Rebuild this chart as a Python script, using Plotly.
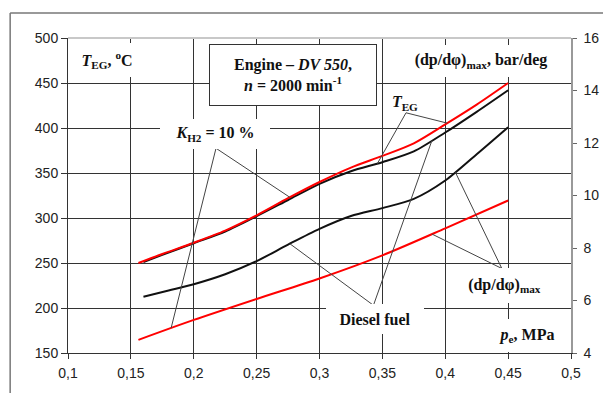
import numpy as np
import plotly.graph_objects as go

# ---- data ----
x_ticks = [0.1, 0.15, 0.2, 0.25, 0.3, 0.35, 0.4, 0.45, 0.5]
x_tick_labels = ["0,1", "0,15", "0,2", "0,25", "0,3", "0,35", "0,4", "0,45", "0,5"]
y_ticks = [150, 200, 250, 300, 350, 400, 450, 500]
y2_ticks = [4, 6, 8, 10, 12, 14, 16]

# T_EG, K_H2 = 10 % (red, left axis)
pe_teg_h2 = [0.156, 0.175, 0.2, 0.225, 0.25, 0.275, 0.3, 0.325, 0.35, 0.375, 0.4, 0.425, 0.45]
teg_h2 = [250, 260, 272.5, 286, 303, 322, 340, 356, 369, 383, 404, 426, 450]
# T_EG, diesel fuel (black, left axis)
pe_teg_df = [0.16, 0.175, 0.2, 0.225, 0.25, 0.275, 0.3, 0.325, 0.35, 0.375, 0.4, 0.425, 0.45]
teg_df = [251, 259, 272, 285, 302, 320, 338, 352, 362, 374, 395, 418, 442]
# (dp/dphi)max, diesel fuel (black, right axis)
pe_dp_df = [0.16, 0.18, 0.2, 0.225, 0.25, 0.275, 0.3, 0.325, 0.35, 0.375, 0.4, 0.425, 0.45]
dp_df = [6.14, 6.38, 6.62, 7.0, 7.5, 8.13, 8.73, 9.22, 9.52, 9.87, 10.57, 11.57, 12.6]
# (dp/dphi)max, K_H2 = 10 % (red, right axis)
pe_dp_h2 = [0.156, 0.2, 0.25, 0.3, 0.35, 0.4, 0.45]
dp_h2 = [4.5, 5.26, 6.06, 6.84, 7.72, 8.75, 9.81]

Y1_MIN, Y1_MAX = 150, 500
Y2_MIN, Y2_MAX = 4, 16


def y2_to_y1(v):
    return Y1_MIN + (v - Y2_MIN) * (Y1_MAX - Y1_MIN) / (Y2_MAX - Y2_MIN)


def on_curve(xs, ys, x, right=False):
    v = float(np.interp(x, xs, ys))
    return y2_to_y1(v) if right else v


RED = "#ff0000"
BLACK = "#111111"
GRID = "#333333"
SERIF = "Liberation Serif, Times New Roman, serif"
SANS = "Liberation Sans, Arial, sans-serif"

fig = go.Figure()
fig.add_trace(go.Scatter(x=pe_dp_h2, y=dp_h2, yaxis="y2", mode="lines",
                         line=dict(color=RED, width=2, shape="spline", smoothing=0.8)))
fig.add_trace(go.Scatter(x=pe_dp_df, y=dp_df, yaxis="y2", mode="lines",
                         line=dict(color=BLACK, width=2, shape="spline", smoothing=0.8)))
fig.add_trace(go.Scatter(x=pe_teg_df, y=teg_df, mode="lines",
                         line=dict(color=BLACK, width=2, shape="spline", smoothing=0.8)))
fig.add_trace(go.Scatter(x=pe_teg_h2, y=teg_h2, mode="lines",
                         line=dict(color=RED, width=2, shape="spline", smoothing=0.8)))

# ---- leader lines (apex of label -> point on curve) ----
leaders = [
    ((0.2177, 377.5), (0.182, on_curve(pe_dp_h2, dp_h2, 0.182, True))),
    ((0.2177, 377.5), (0.2764, on_curve(pe_teg_h2, teg_h2, 0.2764))),
    ((0.3429, 203.0), (0.2764, on_curve(pe_dp_df, dp_df, 0.2764, True))),
    ((0.3429, 203.0), (0.3894, on_curve(pe_teg_df, teg_df, 0.3894))),
    ((0.3688, 416.9), (0.346, on_curve(pe_teg_df, teg_df, 0.346))),
    ((0.3688, 416.9), (0.4016, on_curve(pe_teg_h2, teg_h2, 0.4016))),
    ((0.445, 243.9), (0.3894, on_curve(pe_dp_h2, dp_h2, 0.3894, True))),
    ((0.445, 243.9), (0.408, on_curve(pe_dp_df, dp_df, 0.408, True))),
]
shapes = []
for (ax0, ay0), (ax1, ay1) in leaders:
    shapes.append(dict(type="line", xref="x", yref="y", x0=ax0, y0=ay0, x1=ax1, y1=ay1,
                       line=dict(color="#444444", width=1), layer="above"))

# light grey top border of plot area
shapes.append(dict(type="line", xref="paper", yref="paper", x0=0, x1=1, y0=1, y1=1,
                   line=dict(color="#c8c8c8", width=2), layer="above"))
# outer chart frame (top & left visible)
shapes.append(dict(type="line", xref="paper", yref="paper", x0=-0.115, x1=1.2, y0=1.079, y1=1.079,
                   line=dict(color="#777777", width=1.5)))
shapes.append(dict(type="line", xref="paper", yref="paper", x0=-0.115, x1=-0.115, y0=-0.2, y1=1.079,
                   line=dict(color="#777777", width=1.5)))


def label(text, x, y, w, h, border=False, bg="white"):
    return dict(text=text, x=x, y=y, xref="x", yref="y", showarrow=False,
                xanchor="center", yanchor="middle", width=w, height=h,
                align="center", valign="middle", bgcolor=bg,
                bordercolor="#333333" if border else "rgba(0,0,0,0)",
                borderwidth=1 if border else 0, borderpad=1,
                font=dict(family=SERIF, size=16, color="#111111"))


annotations = [
    label("<b><i>T</i><sub>EG</sub>, <sup>o</sup>C</b>", 0.1313, 475.7, 64, 32),
    label("<b>Engine – <i>DV 550</i>,<br><i>n</i> = 2000 min<sup>-1</sup></b>", 0.2786, 459.2, 164, 58, border=True),
    label("<b>(dp/dφ)<sub>max</sub>, bar/deg</b>", 0.4286, 474.6, 140, 30),
    label("<b><i>K</i><sub>H2</sub> = 10 %</b>", 0.2167, 393.5, 108, 28),
    label("<b><i>T</i><sub>EG</sub></b>", 0.3683, 428.2, 30, 20, bg="rgba(0,0,0,0)"),
    label("<b>Diesel fuel</b>", 0.3445, 187.5, 96, 28),
    label("<b>(dp/dφ)<sub>max</sub></b>", 0.4472, 224.5, 93, 33),
    label("<b><i>p</i><sub>e</sub>, MPa</b>", 0.4647, 169.3, 63, 31),
]

TICKFONT = dict(family=SANS, size=14, color="#222222")

# the page body adds an 8px offset, so the figure is 8px smaller each way
fig.update_layout(
    width=603, height=385,
    margin=dict(l=60, r=39, t=30, b=38),
    paper_bgcolor="white", plot_bgcolor="white",
    showlegend=False,
    shapes=shapes,
    annotations=annotations,
    xaxis=dict(range=[0.1, 0.5], tickvals=x_ticks, ticktext=x_tick_labels,
               showgrid=True, gridcolor=GRID, gridwidth=1, zeroline=False,
               showline=True, linecolor=GRID, linewidth=1,
               ticks="outside", ticklen=5, tickcolor=GRID,
               ticklabelstandoff=2, tickfont=TICKFONT),
    yaxis=dict(range=[Y1_MIN, Y1_MAX], tickvals=y_ticks,
               showgrid=True, gridcolor=GRID, gridwidth=1, zeroline=False,
               showline=True, linecolor=GRID, linewidth=1,
               ticks="outside", ticklen=6, tickcolor=GRID,
               tickfont=TICKFONT),
    yaxis2=dict(range=[Y2_MIN, Y2_MAX], tickvals=y2_ticks, overlaying="y", side="right",
                showgrid=False, zeroline=False,
                showline=True, linecolor="#999999", linewidth=1.5,
                ticks="outside", ticklen=4, tickcolor="#666666",
                ticklabelstandoff=4, tickfont=TICKFONT),
)

fig.write_html("out.html")
